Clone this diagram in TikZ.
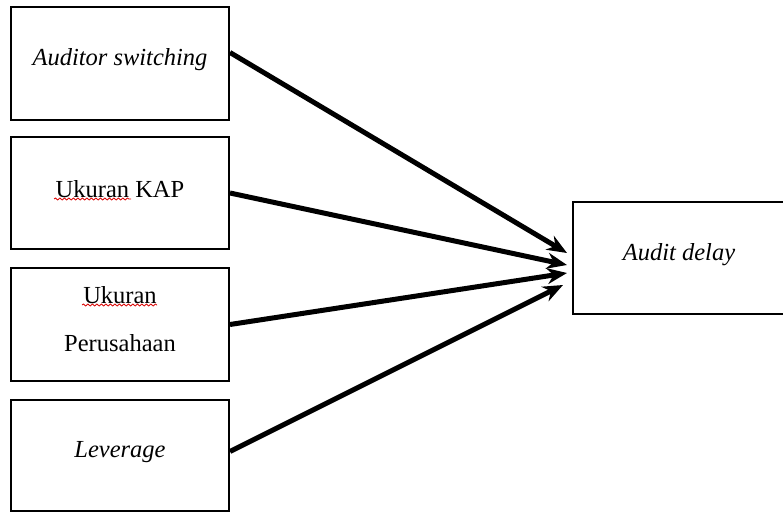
\documentclass[tikz,border=0pt]{standalone}
\usepackage{fontspec}
\setmainfont{Liberation Serif}
\usepackage{tikz}
\usetikzlibrary{arrows.meta,positioning,decorations.pathmorphing}

\tikzset{
  varbox/.style={draw=black, line width=2pt, rectangle, minimum width=218pt,
    minimum height=113pt, inner sep=0pt, align=center,
    text height=14pt, text depth=10pt,
    font=\fontsize{24.5}{29}\selectfont},
  arrowline/.style={line width=5pt, -{Stealth[length=20pt,width=16pt]}},
  spellmark/.style={draw=red!85!black, line width=0.8pt,
    decorate, decoration={snake, segment length=4.5pt, amplitude=1pt}}
}

\begin{document}
\begin{tikzpicture}[x=1pt,y=-1pt]
                \useasboundingbox (0,0) rectangle (783,513);
                %\draw[dashed] (0,0) rectangle (783,513);
                \node[varbox] (switching) at (120,63.5) {\itshape Auditor switching};
                \node[varbox, minimum height=112pt, text height=16pt, text depth=8pt] (kap) at (120,193) {Ukuran KAP};
                \node[varbox, text height=61pt, text depth=8pt] (size) at (120,324.5) {Ukuran\\[19pt]Perusahaan};
                \node[varbox, minimum height=111pt] (lev) at (120,455.5) {\itshape Leverage};
                \node[varbox, minimum width=212pt, minimum height=112pt] (delay) at (679,258) {\itshape Audit delay};
                % spell check marks
                \draw[spellmark] (54,199) -- (131,199);
                \draw[spellmark] (82,305) -- (157,305);
                % arrow tips
                \coordinate (tipa) at (567,253);
                \coordinate (tipb) at (567,265);
                \coordinate (tipc) at (567,273);
                \coordinate (tipd) at (563,285);
                \draw[arrowline] ([yshift=11pt]switching.east) -- (tipa);
                \draw[arrowline] (kap.east) -- (tipb);
                \draw[arrowline] (size.east) -- (tipc);
                \draw[arrowline] ([yshift=4pt]lev.east) -- (tipd);
            \end{tikzpicture}
\end{document}
